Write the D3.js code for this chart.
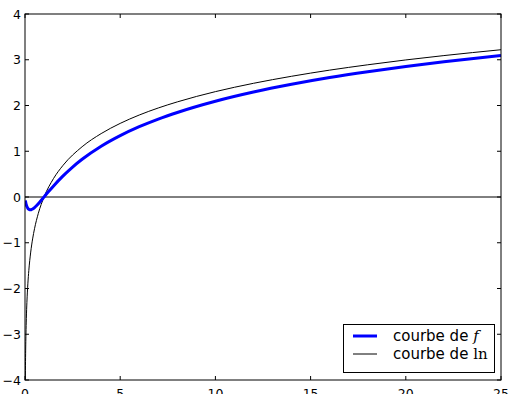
<!DOCTYPE html>
<html><head><meta charset="utf-8">
<script src="https://cdn.jsdelivr.net/npm/d3@7"></script>
<style>body{margin:0;background:#fff}svg{display:block}</style>
</head><body>
<svg id="c" width="510" height="394"></svg>
<script>
const fX = [0.02,0.05,0.1,0.15,0.2,0.25,0.3,0.35,0.4,0.5,0.6,0.7,0.8,0.9,1,1.25,1.5,2,2.5,3,4,5,6,7,8,10,12,14,16,18,20,22,25];
const fY = [-0.077,-0.143,-0.209,-0.248,-0.268,-0.277,-0.278,-0.272,-0.262,-0.231,-0.192,-0.147,-0.099,-0.050,0,0.124,0.243,0.462,0.655,0.824,1.109,1.341,1.536,1.703,1.848,2.093,2.294,2.463,2.610,2.738,2.853,2.957,3.095];
const lnX = [0.015,0.02,0.03,0.05,0.07,0.1,0.15,0.2,0.3,0.4,0.5,0.7,1,1.5,2,3,4,5,6,7,8,10,12,14,16,18,20,22,25];
const lnY = [-4.200,-3.912,-3.507,-2.996,-2.659,-2.303,-1.897,-1.609,-1.204,-0.916,-0.693,-0.357,0,0.405,0.693,1.099,1.386,1.609,1.792,1.946,2.079,2.303,2.485,2.639,2.773,2.890,2.996,3.091,3.219];
const xTicks = [0,5,10,15,20,25];
const yTicks = [-4,-3,-2,-1,0,1,2,3,4];

const L=25,R=501,T=14,B=380;
const svg=d3.select("#c");
const x=d3.scaleLinear().domain([0,25]).range([L,R]);
const y=d3.scaleLinear().domain([-4,4]).range([B,T]);

svg.append("defs").append("clipPath").attr("id","clip").append("rect")
  .attr("x",L).attr("y",T).attr("width",R-L).attr("height",B-T);
const g=svg.append("g").attr("clip-path","url(#clip)");

g.append("line").attr("x1",L).attr("x2",R).attr("y1",y(0)).attr("y2",y(0)).attr("stroke","#000").attr("stroke-width",1);

const line=d3.line().x(d=>x(d[0])).y(d=>y(d[1])).curve(d3.curveMonotoneX);
g.append("path").datum(lnX.map((v,i)=>[v,lnY[i]])).attr("d",line).attr("fill","none").attr("stroke","#000").attr("stroke-width",1);
g.append("path").datum(fX.map((v,i)=>[v,fY[i]])).attr("d",line).attr("fill","none").attr("stroke","#0000ff").attr("stroke-width",3);

const fmt=d=>d<0?"\u2212"+Math.abs(d):String(d);
const ax=svg.append("g");
const tk=4;
const fnt="DejaVu Sans, sans-serif";
xTicks.forEach(t=>{
  ax.append("line").attr("x1",x(t)).attr("x2",x(t)).attr("y1",B).attr("y2",B-tk).attr("stroke","#000");
  ax.append("line").attr("x1",x(t)).attr("x2",x(t)).attr("y1",T).attr("y2",T+tk).attr("stroke","#000");
  ax.append("text").attr("x",x(t)).attr("y",B+18).attr("text-anchor","middle").attr("font-family",fnt).attr("font-size",12.5).text(fmt(t));
});
yTicks.forEach(t=>{
  ax.append("line").attr("x1",L).attr("x2",L+tk).attr("y1",y(t)).attr("y2",y(t)).attr("stroke","#000");
  ax.append("line").attr("x1",R).attr("x2",R-tk).attr("y1",y(t)).attr("y2",y(t)).attr("stroke","#000");
  ax.append("text").attr("x",L-4).attr("y",y(t)+4.5).attr("text-anchor","end").attr("font-family",fnt).attr("font-size",12.5).text(fmt(t));
});
svg.append("rect").attr("x",L).attr("y",T).attr("width",R-L).attr("height",B-T).attr("fill","none").attr("stroke","#000").attr("stroke-width",1);

const lg=svg.append("g");
lg.append("rect").attr("x",343.5).attr("y",324.5).attr("width",151).attr("height",48).attr("fill","#fff").attr("stroke","#000");
lg.append("line").attr("x1",353).attr("x2",377).attr("y1",336).attr("y2",336).attr("stroke","#0000ff").attr("stroke-width",3);
lg.append("line").attr("x1",353).attr("x2",377).attr("y1",354).attr("y2",354).attr("stroke","#000").attr("stroke-width",1);
const t1=lg.append("text").attr("x",393).attr("y",341).attr("font-family",fnt).attr("font-size",15);
t1.append("tspan").text("courbe de ");
t1.append("tspan").attr("font-family","DejaVu Serif, serif").attr("font-style","italic").attr("font-size",15).text("f");
const t2=lg.append("text").attr("x",393).attr("y",359).attr("font-family",fnt).attr("font-size",15);
t2.append("tspan").text("courbe de ");
t2.append("tspan").attr("font-family","DejaVu Serif, serif").attr("font-size",15).text("ln");
</script>
</body></html>
